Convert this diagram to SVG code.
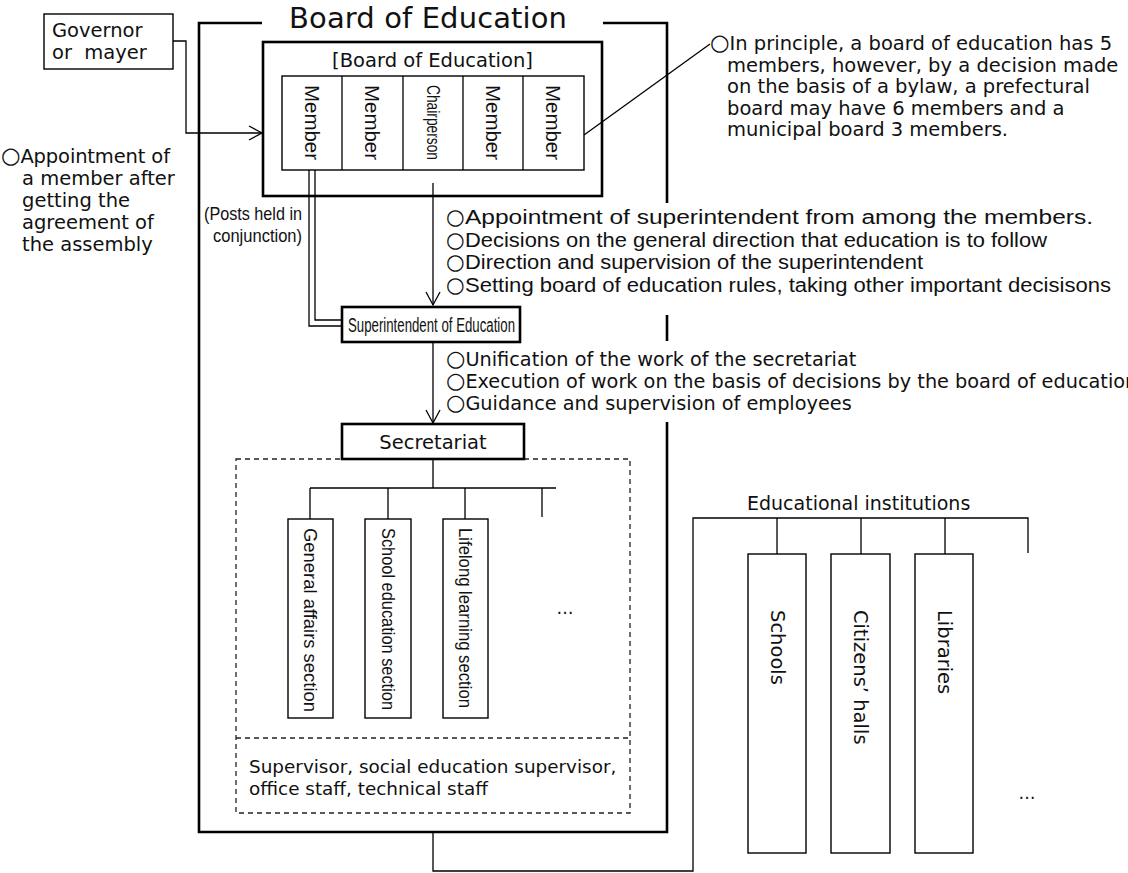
<svg xmlns="http://www.w3.org/2000/svg" width="1128" height="873" viewBox="0 0 1128 873">
<style>
.ln{fill:none;stroke:#000;stroke-width:1.3}
.fr{fill:none;stroke:#000;stroke-width:2.6}
.thick{fill:#fff;stroke:#000;stroke-width:2.6}
.box{fill:#fff;stroke:#000;stroke-width:1.4}
.dash{fill:none;stroke:#222;stroke-width:1.3;stroke-dasharray:5,4}
.w{font-family:"DejaVu Sans",sans-serif;fill:#111}
.n{font-family:"Liberation Sans",Arial,sans-serif;fill:#111}
.c{font-size:1.15em}
</style>
<defs>
<marker id="arr" markerUnits="userSpaceOnUse" markerWidth="16" markerHeight="16" viewBox="0 0 16 16" refX="14" refY="8" orient="auto">
<path d="M1,1 L14,8 L1,15" fill="none" stroke="#000" stroke-width="1.3"/>
</marker>
</defs>
<rect width="1128" height="873" fill="#fff"/>

<g id="board-frame">
<path class="fr" d="M262,23 H199 V832 H667 V422"/>
<path class="fr" d="M603,23 H667 V203"/>
<path class="fr" d="M667,315 V341"/>
<text class="w" x="289" y="28" font-size="29" textLength="278">Board of Education</text>
</g>

<g id="governor">
<rect class="box" x="44" y="14" width="129" height="55" stroke-width="2"/>
<text class="w" x="52" y="37" font-size="19.5">Governor</text>
<text class="w" x="52" y="59" font-size="19.5" xml:space="preserve">or  mayer</text>
</g>

<g id="left-note" class="w" font-size="19.5">
<text x="1" y="163" textLength="169"><tspan class="c">○</tspan>Appointment of</text>
<text x="22" y="185">a member after</text>
<text x="22" y="207">getting the</text>
<text x="22" y="229">agreement of</text>
<text x="22" y="251">the assembly</text>
</g>

<g id="board">
<rect class="thick" x="263" y="42" width="339" height="154"/>
<text class="w" x="432.5" y="67" font-size="19.5" text-anchor="middle">[Board of Education]</text>
<rect class="box" x="282" y="76" width="302" height="94" stroke-width="1.3"/>
<path class="ln" d="M342,76 V170 M403,76 V170 M463,76 V170 M523,76 V170"/>
<g class="n" font-size="21">
<text transform="translate(312,85) rotate(90)" dominant-baseline="central" textLength="75" lengthAdjust="spacingAndGlyphs">Member</text>
<text transform="translate(372.5,85) rotate(90)" dominant-baseline="central" textLength="75" lengthAdjust="spacingAndGlyphs">Member</text>
<text transform="translate(433,85) rotate(90)" dominant-baseline="central" font-size="18" textLength="75" lengthAdjust="spacingAndGlyphs">Chairperson</text>
<text transform="translate(493,85) rotate(90)" dominant-baseline="central" textLength="75" lengthAdjust="spacingAndGlyphs">Member</text>
<text transform="translate(553.5,85) rotate(90)" dominant-baseline="central" textLength="75" lengthAdjust="spacingAndGlyphs">Member</text>
</g>
</g>

<g id="right-note" class="w" font-size="19.5">
<text x="710" y="50"><tspan class="c">○</tspan>In principle, a board of education has 5</text>
<text x="727" y="71.5">members, however, by a decision made</text>
<text x="727" y="93">on the basis of a bylaw, a prefectural</text>
<text x="727" y="114.5">board may have 6 members and a</text>
<text x="727" y="136">municipal board 3 members.</text>
</g>

<g id="posts-note" class="n" font-size="19" text-anchor="end">
<text x="302" y="220" textLength="98" lengthAdjust="spacingAndGlyphs">(Posts held in</text>
<text x="302" y="242" textLength="89" lengthAdjust="spacingAndGlyphs">conjunction)</text>
</g>

<g id="board-duties">
<g class="w" font-size="21.5">
<text x="446" y="224">○</text>
<text x="446" y="246.5">○</text>
<text x="446" y="269">○</text>
<text x="446" y="291.5">○</text>
</g>
<g class="n" font-size="20">
<text x="465" y="224" textLength="628" lengthAdjust="spacingAndGlyphs">Appointment of superintendent from among the members.</text>
<text x="465" y="246.5" textLength="582" lengthAdjust="spacingAndGlyphs">Decisions on the general direction that education is to follow</text>
<text x="465" y="269" textLength="458" lengthAdjust="spacingAndGlyphs">Direction and supervision of the superintendent</text>
<text x="465" y="291.5" textLength="646" lengthAdjust="spacingAndGlyphs">Setting board of education rules, taking other important decisisons</text>
</g>
</g>

<g id="superintendent">
<rect class="thick" x="342" y="307" width="178" height="35"/>
<text class="n" x="348" y="331.5" font-size="20" textLength="167" lengthAdjust="spacingAndGlyphs">Superintendent of Education</text>
</g>

<g id="superintendent-duties" class="w" font-size="19.3">
<text x="446" y="366"><tspan class="c">○</tspan>Unification of the work of the secretariat</text>
<text x="446" y="388"><tspan class="c">○</tspan>Execution of work on the basis of decisions by the board of education</text>
<text x="446" y="410"><tspan class="c">○</tspan>Guidance and supervision of employees</text>
</g>

<g id="staff-area">
<rect class="dash" x="236" y="459" width="394" height="354"/>
<path class="dash" d="M236,738 H630"/>
<text class="w" x="249" y="773" font-size="18.4">Supervisor, social education supervisor,</text>
<text class="w" x="249" y="795" font-size="18.4">office staff, technical staff</text>
<text class="w" x="565" y="614" text-anchor="middle" font-size="17">…</text>
</g>

<g id="secretariat">
<rect class="thick" x="342" y="424" width="182" height="35"/>
<text class="w" x="433" y="448.5" font-size="19.5" text-anchor="middle">Secretariat</text>
</g>

<g id="sections">
<rect class="box" x="288" y="519" width="45" height="199"/>
<rect class="box" x="365" y="519" width="46" height="199"/>
<rect class="box" x="443" y="519" width="45" height="199"/>
<g class="n" font-size="19">
<text transform="translate(310.5,528) rotate(90)" dominant-baseline="central" textLength="184" lengthAdjust="spacingAndGlyphs">General affairs section</text>
<text transform="translate(388,528) rotate(90)" dominant-baseline="central" textLength="182" lengthAdjust="spacingAndGlyphs">School education section</text>
<text transform="translate(465.5,528) rotate(90)" dominant-baseline="central" textLength="180" lengthAdjust="spacingAndGlyphs">Lifelong learning section</text>
</g>
</g>

<g id="institutions">
<text class="w" x="747" y="510" font-size="19">Educational institutions</text>
<rect class="box" x="748" y="554" width="58" height="299"/>
<rect class="box" x="831" y="554" width="59" height="299"/>
<rect class="box" x="915" y="554" width="58" height="299"/>
<text class="w" font-size="19.5" transform="translate(777,610) rotate(90)" dominant-baseline="central">Schools</text>
<text class="w" font-size="19.5" transform="translate(860.5,610) rotate(90)" dominant-baseline="central">Citizens’ halls</text>
<text class="w" font-size="19.5" transform="translate(944,610) rotate(90)" dominant-baseline="central">Libraries</text>
<text class="w" x="1027" y="799" text-anchor="middle" font-size="17">…</text>
</g>

<g id="connectors">
<path class="ln" d="M173,41 H186 V133 H262" marker-end="url(#arr)"/>
<path class="ln" d="M584,135 L710,44"/>
<path class="ln" d="M309,170 V326 H342"/>
<path class="ln" d="M315,170 V320 H342"/>
<path class="ln" d="M433,183 V305" marker-end="url(#arr)"/>
<path class="ln" d="M433,342 V423" marker-end="url(#arr)"/>
<path class="ln" d="M433,459 V488 M310,488 H556 M310,488 V519 M388,488 V519 M465,488 V519 M542,488 V517"/>
<path class="ln" d="M433,832 V871 H693 V518 H1028 V553 M777,518 V554 M861,518 V554 M945,518 V554"/>
</g>
</svg>
